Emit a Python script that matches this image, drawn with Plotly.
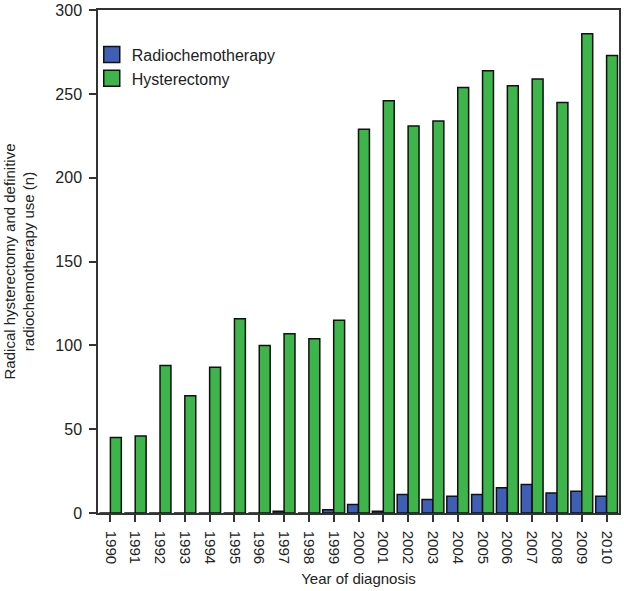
import plotly.graph_objects as go

years = [str(y) for y in range(1990, 2011)]
radiochemo = [0, 0, 0, 0, 0, 0, 0, 1, 0, 2, 5, 1, 11, 8, 10, 11, 15, 17, 12, 13, 10]
hysterectomy = [45, 46, 88, 70, 87, 116, 100, 107, 104, 115, 229, 246, 231, 234, 254, 264, 255, 259, 245, 286, 273]
series_names = ["Radiochemotherapy", "Hysterectomy"]
colors = ["#3f5eb5", "#3db54b"]

fig = go.Figure()
for name, vals, col in zip(series_names, [radiochemo, hysterectomy], colors):
    fig.add_trace(go.Bar(x=years, y=vals, name=name, showlegend=False,
                         marker=dict(color=col, line=dict(color="#111111", width=1.5))))
# legend entries with larger square swatches
for name, col in zip(series_names, colors):
    fig.add_trace(go.Scatter(x=[None], y=[None], mode="markers", name=name,
                             marker=dict(symbol="square", size=16, color=col,
                                         line=dict(color="#111111", width=1.5))))

font_family = "Liberation Sans, Arial, sans-serif"
fig.update_layout(
    width=624, height=591,
    margin=dict(l=98, r=5, t=10, b=78),
    paper_bgcolor="white", plot_bgcolor="white",
    barmode="group", bargap=0.12, bargroupgap=0,
    font=dict(family=font_family, size=15, color="#222222"),
    legend=dict(x=-0.012, y=0.945, xanchor="left", yanchor="top",
                font=dict(size=16, color="#222222"), bgcolor="rgba(0,0,0,0)",
                itemwidth=30, tracegroupgap=0),
    showlegend=True,
)
fig.update_xaxes(
    type="category", range=[-0.5, 20.5], automargin=False,
    showline=True, linecolor="#333333", linewidth=1.5, mirror=True,
    ticks="outside", ticklen=7, tickcolor="#333333", tickwidth=1.5,
    ticklabelstandoff=6,
    tickangle=90, tickfont=dict(size=15),
    title=dict(text="Year of diagnosis", font=dict(size=15), standoff=10),
    showgrid=False,
)
fig.update_yaxes(
    range=[0, 300.2], tickvals=[0, 50, 100, 150, 200, 250, 300], automargin=False,
    showline=True, linecolor="#333333", linewidth=1.5, mirror=True,
    ticks="outside", ticklen=7, tickcolor="#333333", tickwidth=1.5,
    ticklabelstandoff=4, ticklabeloverflow="allow",
    tickfont=dict(size=16),
    title=dict(text="Radical hysterectomy and definitive<br>radiochemotherapy use (n)",
               font=dict(size=15), standoff=17),
    showgrid=False, zeroline=False,
)
fig.write_html("out.html", config={"displayModeBar": False},
               post_script="document.body.style.margin='0';")
